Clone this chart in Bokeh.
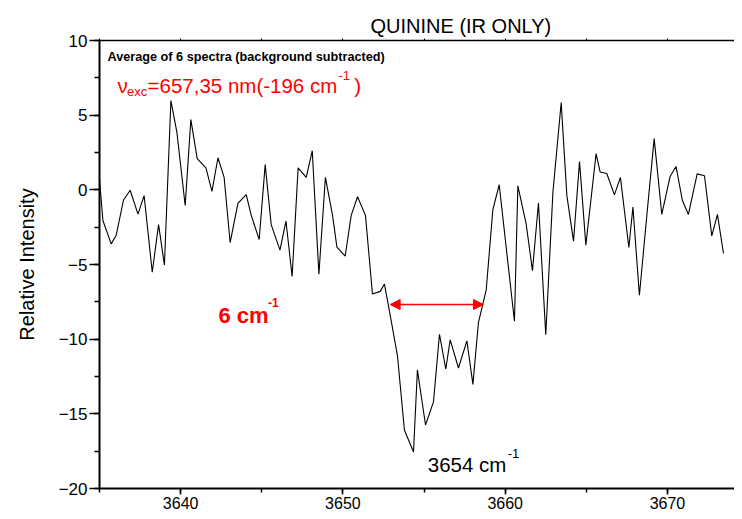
from bokeh.plotting import figure
from bokeh.models import (Range1d, LinearAxis, SingleIntervalTicker, Label, Arrow,
                          NormalHead, CustomJSTickFormatter)
from bokeh.embed import file_html
from bokeh.resources import INLINE

# ---------------- data ----------------
wavenumber = [3635.0, 3635.21, 3635.72, 3636.03, 3636.48, 3636.89, 3637.37, 3637.75, 3638.25,
              3638.64, 3639.00, 3639.40, 3639.77, 3640.28, 3640.63, 3641.02, 3641.56, 3641.93,
              3642.30, 3642.68, 3643.05, 3643.53, 3644.04, 3644.35, 3644.84, 3645.21, 3645.58,
              3646.12, 3646.49, 3646.87, 3647.24, 3647.74, 3648.11, 3648.52, 3648.92, 3649.36,
              3649.63, 3650.14, 3650.51, 3650.90, 3651.39, 3651.82, 3652.30, 3652.56, 3652.96,
              3653.36, 3653.79, 3654.35, 3654.59, 3655.09, 3655.58, 3655.95, 3656.34, 3656.61,
              3657.12, 3657.64, 3658.01, 3658.35, 3658.83, 3659.24, 3659.63, 3660.57, 3660.78,
              3661.29, 3661.68, 3662.05, 3662.50, 3662.94, 3663.45, 3663.80, 3664.21, 3664.58,
              3664.97, 3665.60, 3665.85, 3666.26, 3666.73, 3667.10, 3667.62, 3667.87, 3668.27,
              3668.72, 3669.18, 3669.65, 3670.16, 3670.53, 3670.92, 3671.29, 3671.83, 3672.28,
              3672.73, 3673.08, 3673.45]
intensity = [0.7, -2.05, -3.62, -3.04, -0.68, -0.03, -1.63, -0.39, -5.52,
             -2.33, -5.03, 5.98, 3.85, -1.05, 4.7, 2.09, 1.47, -0.1,
             2.15, 0.83, -3.53, -0.9, -0.32, -1.71, -3.33, 1.69, -2.33,
             -4.04, -2.09, -5.8, 1.47, 0.83, 2.62, -5.65, 0.83, -1.71,
             -3.84, -4.44, -1.71, -0.46, -1.71, -6.98, -6.8, -6.31, -8.68,
             -11.1, -16.08, -17.56, -12.06, -15.75, -14.2, -9.67, -12.0, -10.05,
             -11.93, -10.11, -13.03, -8.9, -6.7, -1.32, 0.34, -8.8, 0.27,
             -2.27, -5.41, -0.88, -9.7, -0.17, 5.84, -0.39, -3.44, 1.89,
             -3.7, 2.42, 1.2, 1.09, -0.34, 0.83, -3.86, -1.16, -7.06,
             -1.8, 3.43, -1.65, 0.89, 1.56, -0.72, -1.65, 1.07, 0.94,
             -3.08, -1.65, -4.26]

x_limits = [3635.0, 3674.13]
y_limits = [-20, 10]
width_arrow_x = [3652.91, 3658.66]
width_arrow_y = -7.68

title_text = "QUININE (IR ONLY)"
avg_text = "Average of 6 spectra (background subtracted)"
exc_main = "=657,35 nm(-196 cm"
peak_text = "3654 cm"
width_text = "6 cm"

FONT = "Liberation Sans"
RED = "#ff0000"

p = figure(width=734, height=511, output_backend="svg", toolbar_location=None,
           x_range=Range1d(*x_limits), y_range=Range1d(*y_limits),
           min_border_left=99, min_border_right=0, min_border_top=40, min_border_bottom=20,
           x_axis_type=None, y_axis_type=None)
p.outline_line_color = None
p.grid.visible = False
p.background_fill_color = "white"
p.border_fill_color = "white"

p.title.text = title_text
p.title.align = "left"
p.title.offset = 271
p.title.text_font = FONT
p.title.text_font_size = "20px"
p.title.text_font_style = "normal"
p.title.text_color = "black"
p.title.standoff = 4

# bottom axis
xa = LinearAxis(ticker=SingleIntervalTicker(interval=10, num_minor_ticks=2))
xa.axis_line_width = 2
xa.major_tick_line_width = 1.5
xa.minor_tick_line_width = 1.5
xa.major_tick_out = 6
xa.major_tick_in = 0
xa.minor_tick_out = 4
xa.minor_tick_in = 0
xa.major_label_standoff = 2
xa.major_label_text_font = FONT
xa.major_label_text_font_size = "16px"
xa.major_label_text_color = "black"
p.add_layout(xa, "below")

# left axis
ya = LinearAxis(ticker=SingleIntervalTicker(interval=5, num_minor_ticks=2))
ya.axis_line_width = 2
ya.major_tick_line_width = 1.5
ya.minor_tick_line_width = 1.5
ya.major_tick_out = 10
ya.major_tick_in = 0
ya.minor_tick_out = 5
ya.minor_tick_in = 0
ya.major_label_standoff = 2
ya.major_label_text_font = FONT
ya.major_label_text_font_size = "17px"
ya.major_label_text_color = "black"
ya.axis_label = "Relative Intensity"
ya.axis_label_text_font = FONT
ya.axis_label_text_font_size = "20px"
ya.axis_label_text_font_style = "normal"
ya.axis_label_text_color = "black"
ya.axis_label_standoff = 18
p.add_layout(ya, "left")

# top frame line with small ticks
ta = LinearAxis(ticker=SingleIntervalTicker(interval=5, num_minor_ticks=0))
ta.axis_line_width = 1.3
ta.major_tick_out = 2
ta.major_tick_in = 0
ta.major_tick_line_width = 1
ta.minor_tick_out = 0
ta.major_label_text_font_size = "0px"
ta.major_label_standoff = 0
ta.formatter = CustomJSTickFormatter(code="return ''")
p.add_layout(ta, "above")

p.line(wavenumber, intensity, line_color="black", line_width=1.1)

# arrow
head = dict(size=10, fill_color=RED, line_color=RED)
p.add_layout(Arrow(start=NormalHead(**head), end=NormalHead(**head),
                   x_start=width_arrow_x[0], y_start=width_arrow_y,
                   x_end=width_arrow_x[1], y_end=width_arrow_y,
                   line_color=RED, line_width=1.5))


def lab(x, y, text, size, color="black", style="normal"):
    p.add_layout(Label(x=x, y=y, text=text, text_font=FONT, text_font_size=size,
                       text_color=color, text_font_style=style,
                       text_baseline="alphabetic", text_align="left"))


lab(3635.49, 8.89, avg_text, "12.7px", style="bold")
lab(3636.11, 7.02, "\u03bd", "20.5px", RED)
lab(3636.69, 6.57, "exc", "13px", RED)
lab(3637.96, 7.02, exc_main, "20.5px", RED)
lab(3649.72, 7.68, "-1", "13px", RED)
lab(3650.70, 7.02, ")", "20.5px", RED)
lab(3642.33, -8.39, width_text, "22px", RED, "bold")
lab(3645.38, -7.57, "-1", "12px", RED, "bold")
lab(3655.23, -18.40, peak_text, "20.5px")
lab(3660.15, -17.65, "-1", "13px")

open("out.html", "w").write(file_html(p, INLINE))
